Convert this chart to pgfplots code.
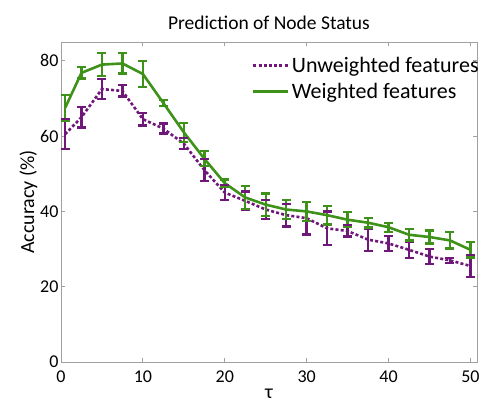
\documentclass[border=0pt]{standalone}
\usepackage{fontspec}
\setmainfont{Carlito}
\usepackage{pgfplots}
\pgfplotsset{compat=1.18}
\usepackage{pgfplotstable}
\definecolor{purp}{RGB}{112,24,122}
\definecolor{grn}{RGB}{62,145,25}
\definecolor{axgray}{RGB}{160,160,160}
\pgfplotstableread{
x y e
0.5 60.5 4.0
2.5 65.0 2.7
5 72.5 2.6
7.5 72.0 1.5
10 64.5 1.7
12.5 62.0 1.3
15 58.0 1.5
17.5 51.0 3.0
20 45.0 2.0
22.5 42.8 2.5
25 40.5 2.5
27.5 39.0 3.0
30 38.2 4.3
32.5 35.5 4.5
35 34.8 1.5
37.5 32.5 3.0
40 31.5 2.0
42.5 29.8 2.2
45 28.0 2.0
47.5 27.0 0.7
50 25.5 3.0
}\unweighted
\pgfplotstableread{
x y e
0.5 67.5 3.5
2.5 76.8 1.5
5 79.0 3.0
7.5 79.3 2.7
10 76.5 3.5
12.5 68.8 0.8
15 61.0 2.5
17.5 54.0 2.0
20 47.5 1.0
22.5 43.7 3.0
25 41.8 3.0
27.5 40.5 2.5
30 40.0 2.5
32.5 39.0 2.5
35 37.8 2.0
37.5 37.0 1.3
40 35.8 1.2
42.5 33.8 1.5
45 33.2 1.7
47.5 32.3 2.2
50 29.8 2.0
}\weighted
\begin{document}
\begin{tikzpicture}
\begin{axis}[
  scale only axis,
  width=416pt, height=320pt,
  xmin=0, xmax=50.8, ymin=0, ymax=85,
  xtick={0,10,20,30,40,50},
  ytick={0,20,40,60,80},
  tick align=inside,
  major tick length=4pt,
  axis line style={axgray, line width=0.8pt},
  tick style={axgray, line width=0.8pt},
  /pgf/number format/assume math mode=true,
  ticklabel style={font=\fontsize{18}{20}\selectfont, text=black},
  xticklabel style={yshift=-5pt},
  yticklabel style={xshift=1pt},
  xlabel={τ},
  ylabel={Accuracy (\%)},
  label style={font=\fontsize{20}{22}\selectfont},
  xlabel style={yshift=-2pt, inner sep=1pt},
  ylabel style={yshift=-4pt},
  title={Prediction of Node Status},
  title style={font=\fontsize{19.5}{21}\selectfont, yshift=3pt},
  legend style={draw=none, fill=none, at={(0.458,0.96)}, anchor=north west,
    font=\fontsize{22}{24}\selectfont, inner sep=0pt, row sep=5pt},
  legend cell align=left,
  legend image code/.code={\draw[#1] (0pt,0pt) -- (35pt,0pt);},
]
% unweighted: error bars, caps, line
\addplot[forget plot, purp, line width=2.6pt, dash pattern=on 3pt off 2.2pt,
  error bars/.cd, y dir=both, y explicit, error mark=none,
  error bar style={purp, line width=2.4pt, solid}]
  table[x=x, y=y, y error=e] {\unweighted};
\addplot[forget plot, purp, only marks, mark=-, mark size=4.5pt,
  mark options={line width=2.4pt, solid}]
  table[x=x, y expr=\thisrow{y}+\thisrow{e}] {\unweighted};
\addplot[forget plot, purp, only marks, mark=-, mark size=4.5pt,
  mark options={line width=2.4pt, solid}]
  table[x=x, y expr=\thisrow{y}-\thisrow{e}] {\unweighted};
% weighted
\addplot[forget plot, grn, line width=2.6pt,
  error bars/.cd, y dir=both, y explicit, error mark=none,
  error bar style={grn, line width=2.4pt}]
  table[x=x, y=y, y error=e] {\weighted};
\addplot[forget plot, grn, only marks, mark=-, mark size=4.5pt,
  mark options={line width=2.4pt}]
  table[x=x, y expr=\thisrow{y}+\thisrow{e}] {\weighted};
\addplot[forget plot, grn, only marks, mark=-, mark size=4.5pt,
  mark options={line width=2.4pt}]
  table[x=x, y expr=\thisrow{y}-\thisrow{e}] {\weighted};
\addlegendimage{purp, line width=2.8pt, dash pattern=on 3pt off 2.2pt}
\addlegendentry{Unweighted features}
\addlegendimage{grn, line width=3.2pt}
\addlegendentry{Weighted features}
\end{axis}
\pgfresetboundingbox
\path[use as bounding box] (-61pt,-43pt) rectangle (421pt,362pt);
\end{tikzpicture}
\end{document}
